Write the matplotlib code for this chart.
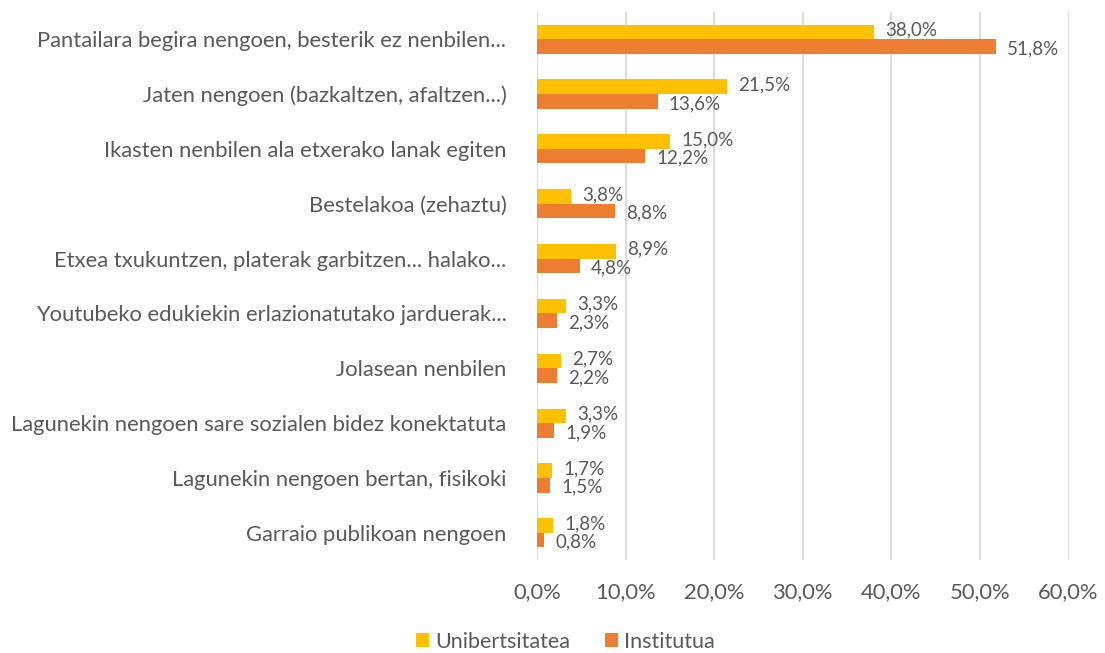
import matplotlib
matplotlib.use("Agg")
import matplotlib.pyplot as plt
import numpy as np
from matplotlib.ticker import FuncFormatter

categories = [
    "Pantailara begira nengoen, besterik ez nenbilen...",
    "Jaten nengoen (bazkaltzen, afaltzen...)",
    "Ikasten nenbilen ala etxerako lanak egiten",
    "Bestelakoa (zehaztu)",
    "Etxea txukuntzen, platerak garbitzen... halako...",
    "Youtubeko edukiekin erlazionatutako jarduerak...",
    "Jolasean nenbilen",
    "Lagunekin nengoen sare sozialen bidez konektatuta",
    "Lagunekin nengoen bertan, fisikoki",
    "Garraio publikoan nengoen",
]
unibertsitatea = [38.0, 21.5, 15.0, 3.8, 8.9, 3.3, 2.7, 3.3, 1.7, 1.8]
institutua = [51.8, 13.6, 12.2, 8.8, 4.8, 2.3, 2.2, 1.9, 1.5, 0.8]
series_names = ["Unibertsitatea", "Institutua"]
colors = ["#FFC000", "#ED7D31"]
xticks = [0, 10, 20, 30, 40, 50, 60]

plt.rcParams['font.family'] = ['Lato', 'DejaVu Sans']
txt = "#595959"

fig = plt.figure(figsize=(11.05, 6.53), dpi=100)
ax = fig.add_axes([0.486, 0.142, 0.481, 0.840])

n = len(categories)
y = np.arange(n)
h = 0.265
b1 = ax.barh(y - h / 2, unibertsitatea, height=h, color=colors[0], label=series_names[0], zorder=3)
b2 = ax.barh(y + h / 2, institutua, height=h, color=colors[1], label=series_names[1], zorder=3)

fmt = lambda v: f"{v:.1f}%".replace(".", ",")
for bars, vals, dy in ((b1, unibertsitatea, 1.5), (b2, institutua, -1.5)):
    for rect, v in zip(bars, vals):
        ax.annotate(fmt(v), (v, rect.get_y() + rect.get_height() / 2),
                    xytext=(8, dy), textcoords="offset points",
                    va="center", ha="left", fontsize=13.5, color=txt)

ax.set_yticks(y)
ax.set_yticklabels(categories, fontsize=15.8, color=txt)
ax.set_ylim(n - 0.5, -0.5)
ax.set_xlim(0, 60)
ax.set_xticks(xticks)
ax.xaxis.set_major_formatter(FuncFormatter(lambda v, p: fmt(v)))
ax.tick_params(axis="x", labelsize=15.8, colors=txt, length=0, pad=16)
ax.tick_params(axis="y", length=0, pad=22)
ax.grid(axis="x", color="#d9d9d9", linewidth=1.3, zorder=0)
for s in ax.spines.values():
    s.set_visible(False)

leg = fig.legend(handles=[b1, b2], labels=series_names, loc="center",
                 bbox_to_anchor=(0.512, 0.017), ncol=2, frameon=False, fontsize=15.5,
                 handlelength=0.6, handleheight=0.6, handletextpad=0.3,
                 columnspacing=1.6, labelcolor=txt)

fig.savefig("out.png", dpi=100)
